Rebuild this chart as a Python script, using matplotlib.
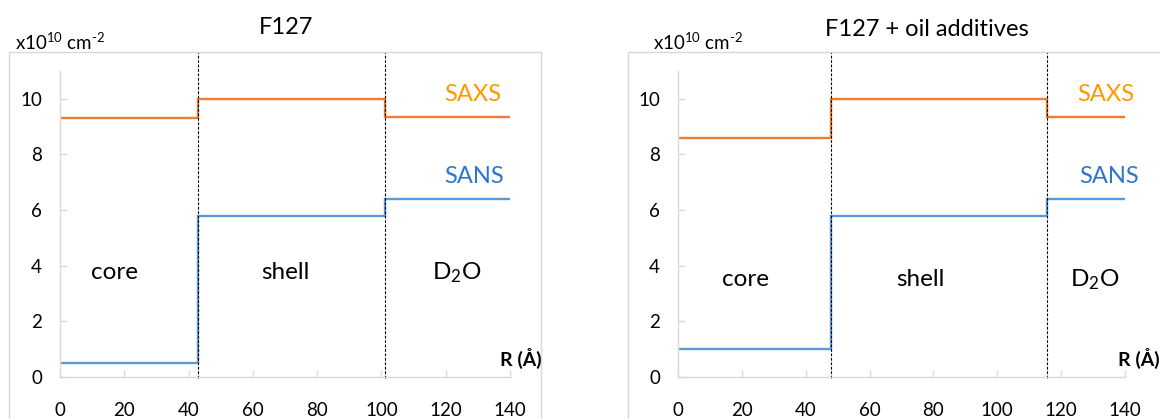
import numpy as np
import matplotlib
matplotlib.use("Agg")
import matplotlib.pyplot as plt
from matplotlib.patches import Rectangle

plt.rcParams['font.family'] = ['Lato', 'DejaVu Sans']
plt.rcParams['mathtext.fontset'] = 'custom'
plt.rcParams['mathtext.rm'] = 'Lato'
plt.rcParams['mathtext.it'] = 'Lato:italic'
plt.rcParams['mathtext.bf'] = 'Lato:bold'

# data: step profiles (edges in Å, scattering length density x1e10 cm^-2)
titles = ["F127", "F127 + oil additives"]
edges_f127 = [0, 42.8, 101, 140]
saxs_f127 = [9.3, 10.0, 9.35]
sans_f127 = [0.5, 5.8, 6.4]
edges_oil = [0, 47.8, 115.5, 140]
saxs_oil = [8.6, 10.0, 9.35]
sans_oil = [1.0, 5.8, 6.4]
x_ticks = [0, 20, 40, 60, 80, 100, 120, 140]
y_ticks = [0, 2, 4, 6, 8, 10]

W, H = 1160, 419
fig = plt.figure(figsize=(W / 100, H / 100), dpi=100)

ORANGE = '#ED7D31'
BLUE = '#5B9BD5'
SAXS_TXT = '#FF9900'
SANS_TXT = '#2E75D0'
GRID = '#D9D9D9'


def px(x0, y0, x1, y1):
    # pixel box -> figure fraction [left, bottom, width, height]
    return [x0 / W, 1 - y1 / H, (x1 - x0) / W, (y1 - y0) / H]


panels = [
    dict(title=titles[0], edges=edges_f127, saxs=saxs_f127, sans=sans_f127,
         ax_box=(60, 71, 510, 377), frame=(9, 52, 541, 430),
         title_xy=(286, 27), unit_xy=(15, 42), r_xy=(542, 358),
         labels=[(17, 3.75, 'core'), (70, 3.75, 'shell'), (123.5, 3.75, 'D$_2$O')],
         saxs_xy=(128.5, 10.15), sans_xy=(128.8, 7.2)),
    dict(title=titles[1], edges=edges_oil, saxs=saxs_oil, sans=sans_oil,
         ax_box=(678, 71, 1125, 377), frame=(628, 52, 1175, 430),
         title_xy=(927, 30), unit_xy=(653, 42), r_xy=(1160, 358),
         labels=[(21, 3.5, 'core'), (76, 3.5, 'shell'), (130.5, 3.5, 'D$_2$O')],
         saxs_xy=(134, 10.15), sans_xy=(135, 7.2)),
]

for p in panels:
    fx0, fy0, fx1, fy1 = p['frame']
    fig.patches.append(Rectangle((fx0 / W, 1 - fy1 / H), (fx1 - fx0) / W, (fy1 - fy0) / H,
                                 transform=fig.transFigure, fill=False,
                                 edgecolor=GRID, linewidth=1.0, zorder=0))

    ax = fig.add_axes(px(*p['ax_box']))
    ax.patch.set_alpha(0)
    e = p['edges']
    ax.stairs(p['saxs'], e, color=ORANGE, linewidth=1.7, baseline=None)
    ax.stairs(p['sans'], e, color=BLUE, linewidth=1.7, baseline=None)

    top = 11 + (71 - fy0) / 27.8
    for xb in e[1:-1]:
        ax.plot([xb, xb], [-0.05, top], color='black', linestyle=(0, (2.5, 1.5)),
                linewidth=0.8, clip_on=False, zorder=1)

    ax.set_xlim(0, 140)
    ax.set_ylim(0, 11)
    ax.set_xticks(x_ticks)
    ax.set_yticks(y_ticks)
    for s in ['top', 'right']:
        ax.spines[s].set_visible(False)
    for s in ['left', 'bottom']:
        ax.spines[s].set_color(GRID)
        ax.spines[s].set_linewidth(1.0)
    ax.tick_params(axis='both', direction='in', color=GRID, length=5, width=1,
                   labelsize=13.5, labelcolor='black')
    ax.tick_params(axis='x', pad=18)
    ax.tick_params(axis='y', pad=13)

    for x, y, s in p['labels']:
        ax.text(x, y, s, ha='center', va='center', fontsize=17.5)
    ax.text(*p['saxs_xy'], 'SAXS', color=SAXS_TXT, ha='center', va='center', fontsize=17)
    ax.text(*p['sans_xy'], 'SANS', color=SANS_TXT, ha='center', va='center', fontsize=17)

    tx, ty = p['title_xy']
    fig.text(tx / W, 1 - ty / H, p['title'], ha='center', va='center', fontsize=17)
    ux, uy = p['unit_xy']
    fig.text(ux / W, 1 - uy / H, r'x10$^{10}$ cm$^{\text{-}2}$', ha='left', va='center',
             fontsize=13.5)
    rx, ry = p['r_xy']
    fig.text(rx / W, 1 - ry / H, 'R (Å)', ha='right', va='center', fontsize=14,
             fontweight='bold')

fig.savefig('out.png', dpi=100)
